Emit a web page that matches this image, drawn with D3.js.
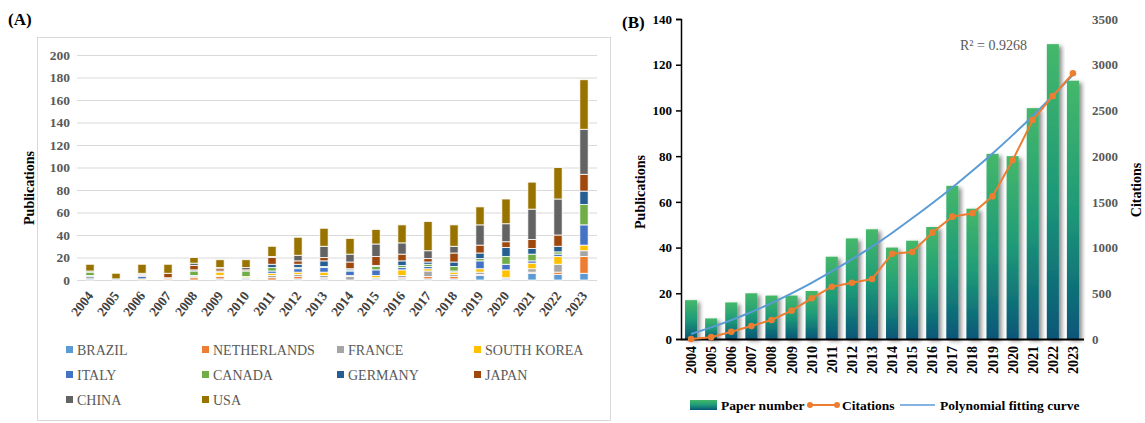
<!DOCTYPE html>
<html><head><meta charset="utf-8">
<script src="https://cdn.jsdelivr.net/npm/d3@7"></script>
<style>body{margin:0;background:#fff}svg{display:block}svg text{font-family:"Times New Roman","Liberation Serif",Times,serif !important}</style>
</head><body><svg id="c" width="1145" height="423"></svg>
<script>
const years = ["2004","2005","2006","2007","2008","2009","2010","2011","2012","2013","2014","2015","2016","2017","2018","2019","2020","2021","2022","2023"];
const countries = ["BRAZIL","NETHERLANDS","FRANCE","SOUTH KOREA","ITALY","CANADA","GERMANY","JAPAN","CHINA","USA"];
const countryColors = ["#5B9BD5","#ED7D31","#A5A5A5","#FFC000","#4472C4","#70AD47","#255E91","#9E480E","#636363","#997300"];
const brazil      = [1,1,0,0,0,1,1,0,1,1,0,1,1,1,1,4,1,6,5,6];
const netherlands = [0,0,0,1,2,2,0,2,2,1,0,0,1,2,2,1,0,1,2,15];
const france      = [2,0,0,1,1,1,1,2,2,2,3,1,2,5,2,2,1,3,7,5];
const southKorea  = [0,0,1,0,0,3,1,2,2,3,1,2,5,2,2,3,7,5,7,5];
const italy       = [1,0,2,0,1,1,0,2,3,4,4,5,2,2,1,7,5,2,2,18];
const canada      = [3,0,0,0,4,0,5,3,1,1,1,3,2,2,4,2,7,6,2,18];
const germany     = [0,0,1,0,1,0,0,3,3,5,1,1,4,2,4,5,8,5,5,12];
const japan       = [0,0,1,4,4,2,1,6,3,3,6,8,6,3,8,7,5,8,10,15];
const china       = [1,0,1,0,2,1,2,1,5,10,7,11,10,7,6,18,16,27,32,40];
const usa         = [6,5,8,8,5,7,7,9,16,16,14,13,16,26,19,16,22,24,28,44];
const seriesA = [brazil,netherlands,france,southKorea,italy,canada,germany,japan,china,usa];
const ticksA = [0,20,40,60,80,100,120,140,160,180,200];

const paperNumber = [17,9,16,20,19,19,21,36,44,48,40,43,49,67,57,81,80,101,129,113];
const citations   = [0,20,80,142,208,310,445,572,616,656,933,952,1163,1338,1375,1560,1955,2395,2658,2906];
const fitCurve    = [55,127,207,295,393,500,615,740,870,1010,1160,1320,1485,1658,1840,2030,2230,2440,2660,2890];
const ticksBL = [0,20,40,60,80,100,120,140];
const ticksBR = [0,500,1000,1500,2000,2500,3000,3500];

const svg = d3.select("#c");
const defs = svg.append("defs");
const grad = defs.append("linearGradient").attr("id","gb").attr("x1",0).attr("y1",0).attr("x2",0).attr("y2",1);
grad.append("stop").attr("offset","0%").attr("stop-color","#45b86a");
grad.append("stop").attr("offset","50%").attr("stop-color","#1e9a78");
grad.append("stop").attr("offset","100%").attr("stop-color","#075678");
const f = defs.append("filter").attr("id","sh").attr("x","-50%").attr("y","-10%").attr("width","200%").attr("height","130%");
f.append("feDropShadow").attr("dx",3).attr("dy",2).attr("stdDeviation",2).attr("flood-color","#000").attr("flood-opacity",0.45);

// ---------- Panel A ----------
svg.append("text").attr("x",8).attr("y",25).attr("font-size",17).attr("font-weight","bold").text("(A)");
svg.append("rect").attr("x",37.5).attr("y",37.5).attr("width",573).attr("height",383).attr("fill","#fff").attr("stroke","#d9d9d9");
const xA = d3.scaleBand().domain(years).range([77,597]).paddingInner(0.68).paddingOuter(0.34);
const yA = d3.scaleLinear().domain([0,200]).range([280,55]);
const gA = svg.append("g");
gA.selectAll("line.grid").data(ticksA).join("line")
  .attr("x1",77).attr("x2",597).attr("y1",d=>yA(d)+0.5).attr("y2",d=>yA(d)+0.5)
  .attr("stroke","#d9d9d9").attr("stroke-width",1);
gA.selectAll("text.yt").data(ticksA).join("text")
  .attr("x",70).attr("y",d=>yA(d)+4.5).attr("text-anchor","end").attr("font-size",13.5).attr("font-weight","bold").attr("fill","#595959").text(d=>d);
const stackData = years.map((y,i)=>{const o={year:y}; countries.forEach((c,k)=>o[c]=seriesA[k][i]); return o;});
const stacked = d3.stack().keys(countries)(stackData);
gA.selectAll("g.layer").data(stacked).join("g").attr("fill",(d,i)=>countryColors[i])
  .selectAll("rect").data(d=>d.filter(s=>s[1]-s[0]>0)).join("rect")
  .attr("x",d=>xA(d.data.year)).attr("width",xA.bandwidth())
  .attr("y",d=>yA(d[1])).attr("height",d=>yA(d[0])-yA(d[1]))
  .attr("stroke","#fff").attr("stroke-width",0.8);
gA.selectAll("text.xl").data(years).join("text")
  .attr("transform",d=>`translate(${xA(d)+xA.bandwidth()/2+4},${296}) rotate(-52)`)
  .attr("text-anchor","end").attr("font-size",13.5).attr("font-weight","bold").attr("fill","#404040").text(d=>d);
svg.append("text").attr("transform","translate(34,188) rotate(-90)").attr("text-anchor","middle")
  .attr("font-size",14).attr("font-weight","bold").text("Publications");
const legX = [66,202,337,474], legY=[351,376,401];
const legA = svg.append("g").selectAll("g").data(countries).join("g")
  .attr("transform",(d,i)=>`translate(${legX[i%4]},${legY[Math.floor(i/4)]})`);
legA.append("rect").attr("x",0).attr("y",-5).attr("width",7).attr("height",7).attr("fill",(d,i)=>countryColors[i]);
legA.append("text").attr("x",11).attr("y",3.5).attr("font-size",14).attr("fill","#595959").text(d=>d);

// ---------- Panel B ----------
svg.append("text").attr("x",622).attr("y",28).attr("font-size",17).attr("font-weight","bold").text("(B)");
const xB = d3.scaleBand().domain(years).range([681,1083]).paddingInner(0.4).paddingOuter(0.2);
const yL = d3.scaleLinear().domain([0,140]).range([339,19]);
const yR = d3.scaleLinear().domain([0,3500]).range([339,19]);
const gB = svg.append("g");
gB.selectAll("rect.bar").data(paperNumber).join("rect")
  .attr("x",(d,i)=>xB(years[i])).attr("width",xB.bandwidth())
  .attr("y",d=>yL(d)).attr("height",d=>yL(0)-yL(d))
  .attr("fill","url(#gb)").attr("filter","url(#sh)");
const axL = gB.append("g").attr("transform","translate(681,0)")
  .call(d3.axisLeft(yL).tickValues(ticksBL).tickSize(5).tickPadding(4));
axL.select(".domain").attr("stroke","#000").attr("stroke-width",1.5);
axL.selectAll("line").attr("stroke","#000").attr("stroke-width",1.5);
axL.selectAll("text").attr("font-size",13).attr("font-weight","bold").attr("fill","#000");
const axR = gB.append("g").attr("transform","translate(1085,0)")
  .call(d3.axisRight(yR).tickValues(ticksBR).tickFormat(d3.format("d")).tickSize(0).tickPadding(7));
axR.select(".domain").remove();
axR.selectAll("text").attr("font-size",13).attr("font-weight","bold").attr("fill","#595959");
gB.append("line").attr("x1",681).attr("x2",1084).attr("y1",339.5).attr("y2",339.5).attr("stroke","#000").attr("stroke-width",2);
gB.selectAll("text.xl").data(years).join("text")
  .attr("transform",d=>`translate(${xB(d)+xB.bandwidth()/2+5},346) rotate(-90)`)
  .attr("text-anchor","end").attr("font-size",14).attr("font-weight","bold").text(d=>d);
const cx = d=>xB(d)+xB.bandwidth()/2;
gB.append("path").datum(fitCurve).attr("fill","none").attr("stroke","#5B9BD5").attr("stroke-width",2)
  .attr("d",d3.line().x((d,i)=>cx(years[i])).y(d=>yR(d)).curve(d3.curveMonotoneX));
gB.append("path").datum(citations).attr("fill","none").attr("stroke","#ED7D31").attr("stroke-width",2)
  .attr("d",d3.line().x((d,i)=>cx(years[i])).y(d=>yR(d)));
gB.selectAll("circle.c").data(citations).join("circle")
  .attr("cx",(d,i)=>cx(years[i])).attr("cy",d=>yR(d)).attr("r",3.3).attr("fill","#ED7D31");
svg.append("text").attr("x",960).attr("y",50).attr("font-size",14).attr("fill","#595959").text("R² = 0.9268");
svg.append("text").attr("transform","translate(645,192) rotate(-90)").attr("text-anchor","middle")
  .attr("font-size",14).attr("font-weight","bold").text("Publications");
svg.append("text").attr("transform","translate(1141,190) rotate(-90)").attr("text-anchor","middle")
  .attr("font-size",14).attr("font-weight","bold").text("Citations");
// legend B
const lg = svg.append("g");
lg.append("rect").attr("x",690).attr("y",400).attr("width",27).attr("height",10).attr("fill","url(#gb)");
lg.append("text").attr("x",721).attr("y",410).attr("font-size",13.5).attr("font-weight","bold").text("Paper number");
lg.append("line").attr("x1",809).attr("x2",838).attr("y1",405).attr("y2",405).attr("stroke","#ED7D31").attr("stroke-width",2);
lg.selectAll("circle").data([810,837]).join("circle").attr("cx",d=>d).attr("cy",405).attr("r",3).attr("fill","#ED7D31");
lg.append("text").attr("x",842).attr("y",410).attr("font-size",13.5).attr("font-weight","bold").text("Citations");
lg.append("line").attr("x1",900).attr("x2",935).attr("y1",405).attr("y2",405).attr("stroke","#5B9BD5").attr("stroke-width",1.5);
lg.append("text").attr("x",940).attr("y",410).attr("font-size",13.5).attr("font-weight","bold").text("Polynomial fitting curve");
</script></body></html>
